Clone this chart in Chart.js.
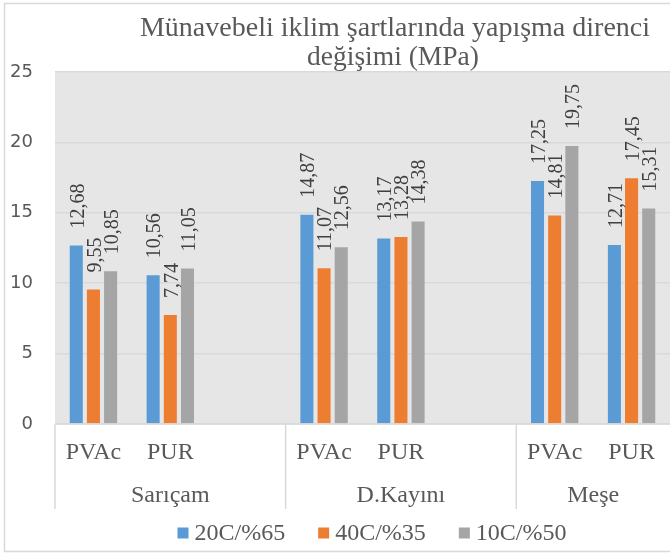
<!DOCTYPE html>
<html>
<head>
<meta charset="utf-8">
<script src="https://cdn.jsdelivr.net/npm/chart.js@4"></script>
<style>
  html, body { margin: 0; padding: 0; background: #fff; overflow: hidden; }
  #wrap { width: 670px; height: 554px; }
</style>
</head>
<body>
<div id="wrap"><canvas id="myChart" width="670" height="554"></canvas></div>
<script>
// chart data
const categories = ["PVAc", "PUR", "", "PVAc", "PUR", "", "PVAc", "PUR"];
const groups = ["Sarıçam", "D.Kayını", "Meşe"];
const groupStart = [0, 3, 6];
const groupSize = [3, 3, 2];
const seriesNames = ["20C/%65", "40C/%35", "10C/%50"];
const s20 = [12.68, 10.56, null, 14.87, 13.17, null, 17.25, 12.71];
const s40 = [9.55, 7.74, null, 11.07, 13.28, null, 14.81, 17.45];
const s10 = [10.85, 11.05, null, 12.56, 14.38, null, 19.75, 15.31];
const yTicks = [0, 5, 10, 15, 20, 25];
const titleLines = ["Münavebeli iklim şartlarında yapışma direnci", "değişimi (MPa)"];

const colors = ["#5B9BD5", "#ED7D31", "#A5A5A5"];
const serif = "'Liberation Serif', 'Times New Roman', serif";
const lineGray = "#D9D9D9";
const textGray = "#595959";

const fmt = v => v.toFixed(2).replace(".", ",");

// background, plot area and outer frame
const backPlugin = {
  id: "back",
  beforeDraw(chart) {
    const ctx = chart.ctx;
    const a = chart.chartArea;
    ctx.save();
    ctx.fillStyle = "#fff";
    ctx.fillRect(0, 0, chart.width, chart.height);
    ctx.fillStyle = "#E7E6E6";
    ctx.fillRect(a.left, a.top, a.right - a.left, a.bottom - a.top);
    ctx.strokeStyle = lineGray;
    ctx.lineWidth = 1.5;
    ctx.strokeRect(4.5, 3.5, chart.width + 20, 548);
    ctx.restore();
  }
};

// rotated value labels above bars
const valuePlugin = {
  id: "values",
  afterDatasetsDraw(chart) {
    const ctx = chart.ctx;
    ctx.save();
    ctx.font = "20px " + serif;
    ctx.fillStyle = "#404040";
    ctx.textAlign = "left";
    ctx.textBaseline = "middle";
    chart.data.datasets.forEach((ds, di) => {
      const meta = chart.getDatasetMeta(di);
      meta.data.forEach((bar, i) => {
        const v = ds.data[i];
        if (v == null) return;
        ctx.save();
        ctx.translate(bar.x + 2, bar.y - 17);
        ctx.rotate(-Math.PI / 2);
        ctx.fillText(fmt(v), 0, 0);
        ctx.restore();
      });
    });
    ctx.restore();
  }
};

// title, two-level x axis labels, legend
const textPlugin = {
  id: "texts",
  afterDraw(chart) {
    const ctx = chart.ctx;
    const a = chart.chartArea;
    const x = chart.scales.x;
    const slot = (a.right - a.left) / categories.length;
    ctx.save();

    // title
    ctx.fillStyle = textGray;
    ctx.textAlign = "center";
    ctx.textBaseline = "middle";
    ctx.font = "28px " + serif;
    ctx.fillText(titleLines[0], 395, 29);
    ctx.font = "27.5px " + serif;
    ctx.fillText(titleLines[1], 393, 58);

    // x axis line and group separators
    ctx.strokeStyle = lineGray;
    ctx.lineWidth = 1.5;
    ctx.beginPath();
    ctx.moveTo(a.left, a.bottom);
    ctx.lineTo(a.right, a.bottom);
    groupStart.forEach(g => {
      const px = x.getPixelForValue(g) - slot / 2;
      ctx.moveTo(px, a.bottom);
      ctx.lineTo(px, 509);
    });
    ctx.stroke();

    // category labels
    ctx.font = "24px " + serif;
    categories.forEach((c, i) => {
      if (!c) return;
      ctx.fillText(c, x.getPixelForValue(i), 453);
    });

    // group labels
    groups.forEach((g, k) => {
      const l = x.getPixelForValue(groupStart[k]) - slot / 2;
      const r = l + groupSize[k] * slot;
      ctx.fillText(g, (l + r) / 2, 496);
    });

    // legend
    ctx.font = "24px " + serif;
    ctx.textAlign = "left";
    const gap = 33, box = 11;
    const widths = seriesNames.map(n => box + 6 + ctx.measureText(n).width);
    const total = widths.reduce((s, w) => s + w, 0) + gap * (widths.length - 1);
    let lx = 372 - total / 2;
    seriesNames.forEach((n, i) => {
      ctx.fillStyle = colors[i];
      ctx.fillRect(lx, 533 - box / 2, box, box);
      ctx.fillStyle = textGray;
      ctx.fillText(n, lx + box + 6, 534);
      lx += widths[i] + gap;
    });

    ctx.restore();
  }
};

const ctx = document.getElementById("myChart").getContext("2d");

new Chart(ctx, {
  type: "bar",
  data: {
    labels: categories,
    datasets: [
      { label: seriesNames[0], data: s20, backgroundColor: colors[0] },
      { label: seriesNames[1], data: s40, backgroundColor: colors[1] },
      { label: seriesNames[2], data: s10, backgroundColor: colors[2] }
    ]
  },
  options: {
    responsive: false,
    animation: false,
    devicePixelRatio: 1,
    layout: { padding: { top: 72, bottom: 130, left: 0, right: 0 } },
    datasets: {
      bar: { categoryPercentage: 0.67, barPercentage: 0.76, borderWidth: 0 }
    },
    plugins: {
      legend: { display: false },
      title: { display: false },
      tooltip: { enabled: false }
    },
    scales: {
      x: {
        ticks: { display: false },
        grid: { display: false },
        border: { display: false },
        afterFit: scale => { scale.height = 0; }
      },
      y: {
        min: 0,
        max: 25,
        afterBuildTicks: scale => { scale.ticks = yTicks.map(v => ({ value: v })); },
        afterFit: scale => { scale.width = 55; },
        ticks: {
          padding: 22,
          color: textGray,
          font: { family: "'DejaVu Sans', sans-serif", size: 18 }
        },
        grid: { color: lineGray, lineWidth: 1.5, drawTicks: false },
        border: { display: false }
      }
    }
  },
  plugins: [backPlugin, valuePlugin, textPlugin]
});
</script>
</body>
</html>
